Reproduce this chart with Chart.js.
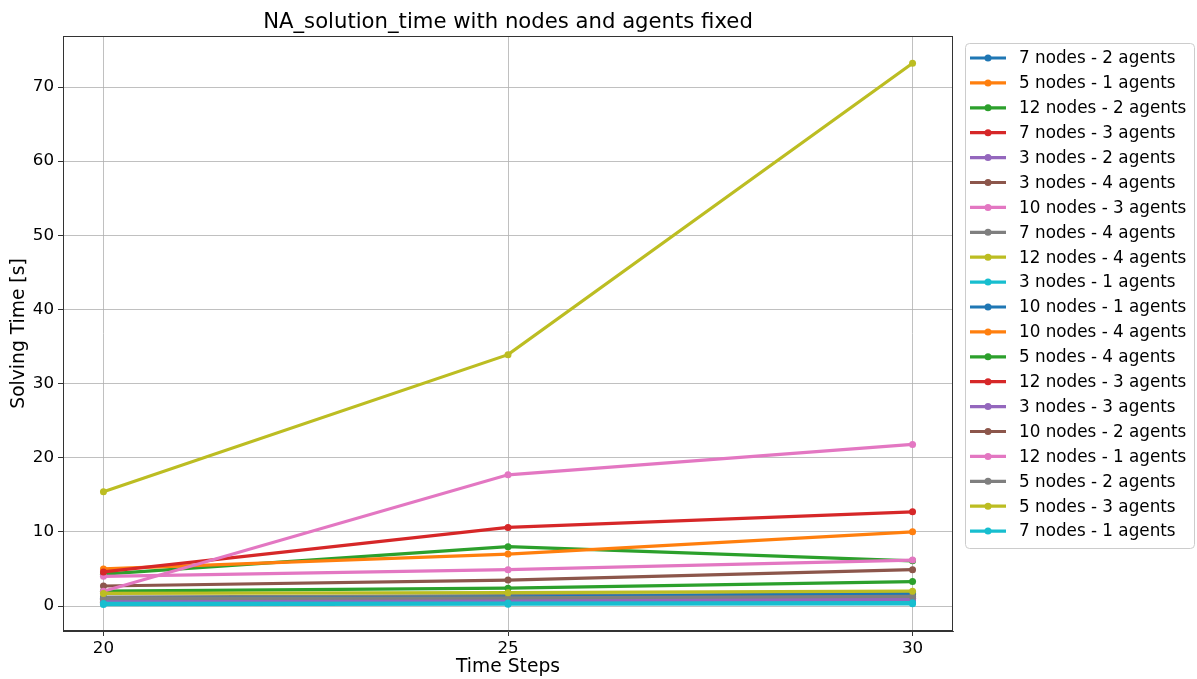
<!DOCTYPE html>
<html>
<head>
<meta charset="utf-8">
<script src="https://cdn.jsdelivr.net/npm/chart.js@4.4.1/dist/chart.umd.min.js"></script>
<style>
  html, body { margin: 0; padding: 0; background: #fff; }
  #wrap { width: 1197px; height: 679px; position: relative; }
</style>
</head>
<body>
<div id="wrap"><canvas id="c" width="1197" height="679"></canvas></div>
<script>
// Time horizon (x values) and tick marks
const timeSteps = [20, 25, 30];
const xTicks = [20, 25, 30];
const yTicks = [0, 10, 20, 30, 40, 50, 60, 70];

// Solving time [s] per configuration, one array per series
const s7n2a  = [0.6, 0.8, 1.0];
const s5n1a  = [0.5, 1.0, 1.8];
const s12n2a = [4.3, 8.0, 6.1];
const s7n3a  = [0.8, 1.0, 1.2];
const s3n2a  = [0.5, 0.6, 0.7];
const s3n4a  = [0.9, 1.0, 1.1];
const s10n3a = [4.0, 4.9, 6.2];
const s7n4a  = [1.2, 1.4, 1.6];
const s12n4a = [15.4, 33.9, 73.2];
const s3n1a  = [0.2, 0.25, 0.3];
const s10n1a = [1.0, 1.2, 1.7];
const s10n4a = [5.0, 7.0, 10.0];
const s5n4a  = [2.0, 2.4, 3.3];
const s12n3a = [4.6, 10.6, 12.7];
const s3n3a  = [0.7, 0.9, 1.0];
const s10n2a = [2.7, 3.5, 4.9];
const s12n1a = [2.0, 17.7, 21.8];
const s5n2a  = [1.0, 1.1, 1.3];
const s5n3a  = [1.7, 1.8, 2.0];
const s7n1a  = [0.35, 0.4, 0.45];

const seriesLabels = [
  '7 nodes - 2 agents', '5 nodes - 1 agents', '12 nodes - 2 agents', '7 nodes - 3 agents',
  '3 nodes - 2 agents', '3 nodes - 4 agents', '10 nodes - 3 agents', '7 nodes - 4 agents',
  '12 nodes - 4 agents', '3 nodes - 1 agents', '10 nodes - 1 agents', '10 nodes - 4 agents',
  '5 nodes - 4 agents', '12 nodes - 3 agents', '3 nodes - 3 agents', '10 nodes - 2 agents',
  '12 nodes - 1 agents', '5 nodes - 2 agents', '5 nodes - 3 agents', '7 nodes - 1 agents'
];
const seriesValues = [
  s7n2a, s5n1a, s12n2a, s7n3a, s3n2a, s3n4a, s10n3a, s7n4a, s12n4a, s3n1a,
  s10n1a, s10n4a, s5n4a, s12n3a, s3n3a, s10n2a, s12n1a, s5n2a, s5n3a, s7n1a
];

const palette = ['#1f77b4', '#ff7f0e', '#2ca02c', '#d62728', '#9467bd',
                 '#8c564b', '#e377c2', '#7f7f7f', '#bcbd22', '#17becf'];

const FONT = "'DejaVu Sans', sans-serif";

const datasets = seriesLabels.map((label, i) => ({
  label,
  data: timeSteps.map((t, j) => ({ x: t, y: seriesValues[i][j] })),
  borderColor: palette[i % 10],
  backgroundColor: palette[i % 10],
  borderWidth: 3.2,
  pointRadius: 3.5,
  pointHoverRadius: 3.5,
  pointBorderWidth: 0,
  tension: 0,
  order: seriesLabels.length - i
}));

// Title and boxed legend drawn on the canvas
const decorations = {
  id: 'decorations',
  afterDraw(chart) {
    const ctx = chart.ctx;
    const area = chart.chartArea;
    ctx.save();
    ctx.fillStyle = '#000';
    ctx.font = `21.2px ${FONT}`;
    ctx.textAlign = 'center';
    ctx.textBaseline = 'middle';
    ctx.fillText('NA_solution_time with nodes and agents fixed', (area.left + area.right) / 2, 22);

    // legend box
    const bx = 965.5, by = 43.5, bw = 229, bh = 505, r = 4;
    ctx.beginPath();
    ctx.moveTo(bx + r, by);
    ctx.arcTo(bx + bw, by, bx + bw, by + bh, r);
    ctx.arcTo(bx + bw, by + bh, bx, by + bh, r);
    ctx.arcTo(bx, by + bh, bx, by, r);
    ctx.arcTo(bx, by, bx + bw, by, r);
    ctx.closePath();
    ctx.fillStyle = 'rgba(255,255,255,0.8)';
    ctx.fill();
    ctx.strokeStyle = '#cccccc';
    ctx.lineWidth = 1;
    ctx.stroke();

    ctx.font = `16.8px ${FONT}`;
    ctx.textAlign = 'left';
    ctx.textBaseline = 'middle';
    chart.data.datasets.forEach((ds, i) => {
      const y = 58 + i * 24.9;
      ctx.strokeStyle = ds.borderColor;
      ctx.lineWidth = 3.2;
      ctx.beginPath();
      ctx.moveTo(970, y);
      ctx.lineTo(1006, y);
      ctx.stroke();
      ctx.fillStyle = ds.borderColor;
      ctx.beginPath();
      ctx.arc(988, y, 3.5, 0, Math.PI * 2);
      ctx.fill();
      ctx.fillStyle = '#000';
      ctx.fillText(ds.label, 1019, y + 1);
    });
    ctx.restore();
  }
};

new Chart(document.getElementById('c'), {
  type: 'line',
  data: { datasets },
  options: {
    responsive: false,
    animation: false,
    events: [],
    layout: { padding: { top: 36, right: 244, left: 0, bottom: 0 } },
    plugins: { legend: { display: false }, title: { display: false }, tooltip: { enabled: false } },
    scales: {
      x: {
        type: 'linear',
        min: 19.5,
        max: 30.5,
        afterBuildTicks(scale) { scale.ticks = xTicks.map(v => ({ value: v })); },
        afterFit(scale) { scale.height = 48; },
        ticks: { color: '#000', font: { family: FONT, size: 16.7 }, padding: 3, maxRotation: 0,
                 callback: v => String(v) },
        grid: { color: '#b0b0b0', lineWidth: 0.8, drawTicks: true, tickLength: 5, tickColor: '#000' },
        border: { color: '#333', width: 1 },
        title: { display: true, text: 'Time Steps', color: '#000', font: { family: FONT, size: 18.7 },
                 padding: { top: 0, bottom: 1 } }
      },
      y: {
        type: 'linear',
        min: -3.37,
        max: 76.88,
        afterBuildTicks(scale) { scale.ticks = yTicks.map(v => ({ value: v })); },
        afterFit(scale) { scale.width = 63; },
        ticks: { color: '#000', font: { family: FONT, size: 16.7 }, padding: 4,
                 callback: v => String(v) },
        grid: { color: '#b0b0b0', lineWidth: 0.8, drawTicks: true, tickLength: 5, tickColor: '#000' },
        border: { color: '#333', width: 1 },
        title: { display: true, text: 'Solving Time [s]', color: '#000', font: { family: FONT, size: 18.7 },
                 padding: { top: 8, bottom: 0 } }
      }
    }
  },
  plugins: [decorations, {
    id: 'frame',
    afterDraw(chart) {
      const a = chart.chartArea, ctx = chart.ctx;
      ctx.save();
      ctx.strokeStyle = '#333';
      ctx.lineWidth = 1;
      ctx.strokeRect(a.left + 0.5, a.top + 0.5, a.right - a.left - 1, a.bottom - a.top - 1);
      ctx.restore();
    }
  }]
});
</script>
</body>
</html>
